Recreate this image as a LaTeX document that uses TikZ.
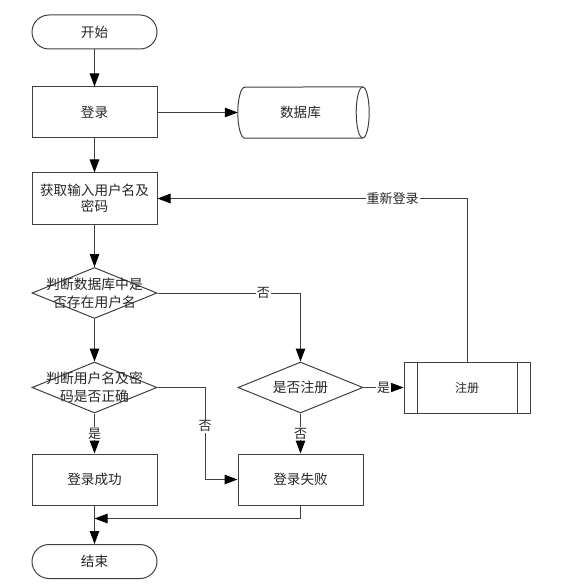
\documentclass[tikz,border=0pt]{standalone}
\usepackage{fontspec}
\newfontfamily\cjk{Noto Sans CJK SC}
\usetikzlibrary{arrows.meta,shapes.geometric,calc}
\begin{document}
\begin{tikzpicture}[x=1pt,y=-1pt,
  boxline/.style={draw=black!75, line width=1pt},
  arr/.style={draw=black!75, line width=1pt, -{Triangle[length=13pt,width=9.5pt,color=black]}},
  box/.style={boxline, minimum width=125pt, minimum height=51pt, inner sep=0pt, align=center,
    font=\cjk\fontsize{13.6}{16.5}\selectfont, text=black!85},
  term/.style={box, minimum height=34pt, rounded corners=17pt},
  dia/.style={boxline, shape=diamond, minimum width=125pt, minimum height=51pt, inner sep=0pt},
  dtext/.style={align=center, inner sep=0pt, font=\cjk\fontsize{13.8}{18}\selectfont, text=black!85},
  lab/.style={fill=white, inner sep=1pt, font=\cjk\fontsize{13}{13}\selectfont, text=black!85}
]
\useasboundingbox (0,0) rectangle (564,585);

\node[term] (start) at (94.5,32) {开始};
\node[box] (login) at (94.5,112.5) {登录};
\node[inner sep=0pt, minimum width=131pt, minimum height=51pt,
      font=\cjk\fontsize{13.6}{17}\selectfont, text=black!85] (db) at (303.5,112.5) {\hspace*{-6pt}数据库};
\draw[boxline] ($(db.south east)+(-6.5,0)$) -- ($(db.south west)+(7,0)$)
  arc[start angle=90,end angle=270,x radius=7,y radius=25.5] -- ($(db.north east)+(-6.5,0)$);
\draw[boxline] ($(db.east)+(-6.5,0)$) ellipse[x radius=6.5,y radius=25.5];

\node[box] (input) at (94.5,198.5) {获取输入用户名及\\密码};
\node[dia, label={[dtext]center:判断数据库中是\\否存在用户名}] (d1) at (94.5,293) {};
\node[dia, label={[dtext]center:判断用户名及密\\码是否正确}] (d2) at (94.5,387.5) {};
\node[dia, label={[dtext]center:是否注册}] (reg) at (300.5,387.5) {};
\node[box, minimum width=126pt, font=\cjk\fontsize{12}{14}\selectfont] (zc) at (467,387.5) {注册};
\draw[boxline] ([xshift=14pt]zc.north west) -- ([xshift=14pt]zc.south west);
\draw[boxline] ([xshift=-13pt]zc.north east) -- ([xshift=-13pt]zc.south east);
\node[box] (success) at (94.5,479.5) {登录成功};
\node[box] (fail) at (300.5,479.5) {登录失败};
\node[term] (end) at (94.5,561.5) {结束};

\coordinate (k1) at (205,387.5);
\coordinate (k2) at ($(success.south)+(0,13)$);

\draw[arr] (start) -- (login);
\draw[arr] (login) -- (db);
\draw[arr] (login) -- (input);
\draw[arr] (input) -- (d1);
\draw[arr] (d1) -- (d2);
\draw[arr] (d1.east) -| node[lab,pos=0.37]{否} (reg.north);
\draw[arr] (d2) -- node[lab]{是} (success);
\draw[arr] (d2.east) -- (k1) |- node[lab,pos=0.21]{否} (fail.west);
\draw[arr] (reg) -- node[lab]{否} (fail);
\draw[arr] (reg) -- node[lab]{是} (zc);
\draw[arr] (zc.north) |- node[lab,pos=0.62]{重新登录} (input.east);
\draw[arr] (fail.south) |- (k2);
\draw[arr] (success) -- (end);
\end{tikzpicture}
\end{document}
